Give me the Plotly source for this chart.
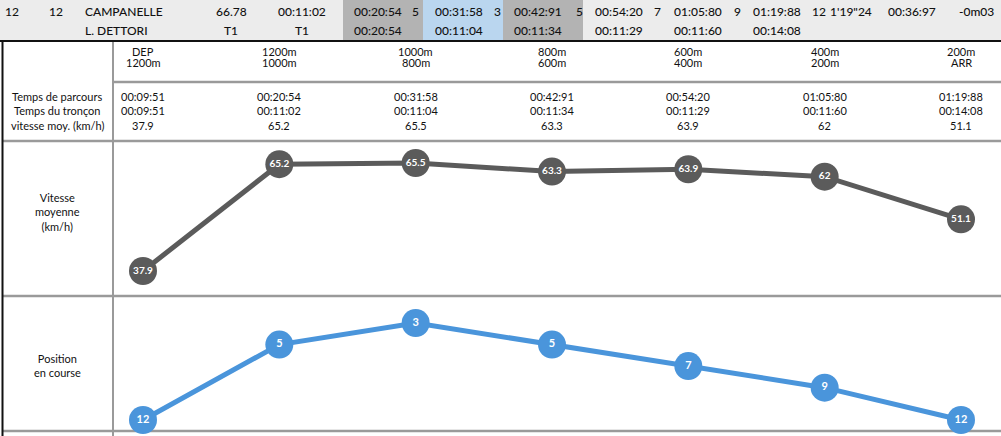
import plotly.graph_objects as go

# ---------------- data ----------------
head_row1 = ["12", "12", "CAMPANELLE", "66.78", "00:11:02", "00:20:54", "5", "00:31:58", "3",
             "00:42:91", "5", "00:54:20", "7", "01:05:80", "9", "01:19:88", "12", "1'19\"24",
             "00:36:97", "-0m03"]
head_row2 = ["", "", "L. DETTORI", "T1", "T1", "00:20:54", "", "00:11:04", "",
             "00:11:34", "", "00:11:29", "", "00:11:60", "", "00:14:08", "", "", "", ""]

section_from = ["DEP", "1200m", "1000m", "800m", "600m", "400m", "200m"]
section_to = ["1200m", "1000m", "800m", "600m", "400m", "200m", "ARR"]
temps_parcours = ["00:09:51", "00:20:54", "00:31:58", "00:42:91", "00:54:20", "01:05:80", "01:19:88"]
temps_troncon = ["00:09:51", "00:11:02", "00:11:04", "00:11:34", "00:11:29", "00:11:60", "00:14:08"]
vitesse = [37.9, 65.2, 65.5, 63.3, 63.9, 62, 51.1]
position = [12, 5, 3, 5, 7, 9, 12]

row_labels = ["Temps de parcours", "Temps du tronçon", "vitesse moy. (km/h)"]
chart_labels = ["Vitesse<br>moyenne<br>(km/h)", "Position<br>en course"]

# ---------------- layout helpers ----------------
W, H = 1001, 436
FONT = "Lato, 'Open Sans', sans-serif"
def px(x):
    return x / W
def py(y):
    return 1 - y / H

idx = list(range(len(vitesse)))
fmt = lambda v: (f"{v:g}")

fig = go.Figure()
fig.add_trace(go.Scatter(
    x=idx, y=vitesse, xaxis="x", yaxis="y",
    mode="lines+markers+text", text=[fmt(v) for v in vitesse],
    textposition="middle center",
    textfont=dict(color="white", size=10, family=FONT, weight="bold"),
    line=dict(color="#5b5b5b", width=5),
    marker=dict(color="#5b5b5b", size=28, line=dict(width=0)),
    cliponaxis=False, hoverinfo="skip", showlegend=False))
fig.add_trace(go.Scatter(
    x=idx, y=position, xaxis="x", yaxis="y2",
    mode="lines+markers+text", text=[str(v) for v in position],
    textposition="middle center",
    textfont=dict(color="white", size=11, family=FONT, weight="bold"),
    line=dict(color="#4a95db", width=5),
    marker=dict(color="#4a95db", size=28, line=dict(width=0)),
    cliponaxis=False, hoverinfo="skip", showlegend=False))

shapes = []
# header background and highlighted cells
shapes.append(dict(type="rect", xref="paper", yref="paper", x0=0, x1=1, y0=py(40), y1=py(0),
                   fillcolor="#ececec", line=dict(width=0), layer="below"))
for x0, x1, c in [(343, 423, "#b3b3b3"), (423, 503, "#bad6ef"), (503, 583, "#b3b3b3")]:
    shapes.append(dict(type="rect", xref="paper", yref="paper", x0=px(x0), x1=px(x1),
                       y0=py(40), y1=py(0), fillcolor=c, line=dict(width=0), layer="below"))
# black rule under header and left border
shapes.append(dict(type="line", xref="paper", yref="paper", x0=0, x1=1, y0=py(41), y1=py(41),
                   line=dict(color="#111", width=2)))
shapes.append(dict(type="line", xref="paper", yref="paper", x0=px(2.5), x1=px(2.5), y0=py(41), y1=0,
                   line=dict(color="#111", width=2)))
# gray grid lines
GR = "#9a9a9a"
shapes.append(dict(type="line", xref="paper", yref="paper", x0=px(113), x1=px(113), y0=py(42), y1=0,
                   line=dict(color=GR, width=2)))
shapes.append(dict(type="line", xref="paper", yref="paper", x0=px(113), x1=1, y0=py(82), y1=py(82),
                   line=dict(color=GR, width=2.5)))
for yy in [141, 296, 431]:
    shapes.append(dict(type="line", xref="paper", yref="paper", x0=px(3), x1=1, y0=py(yy), y1=py(yy),
                       line=dict(color=GR, width=2.5), layer="below"))

ann = []
def add(text, x, y, xref="paper", xanchor="center", size=12, color="#111", weight="normal"):
    ann.append(dict(text=text, x=x, y=y, xref=xref, yref="paper", xanchor=xanchor,
                    yanchor="middle", showarrow=False,
                    font=dict(family=FONT, size=size, color=color, weight=weight)))

# header rows
head_x = [12, 56, 83, 231, 302, 378, 415, 459, 497, 538, 579, 619, 657, 698, 737, 777, 819, 851, 912, 976]
for i, (t1, t2) in enumerate(zip(head_row1, head_row2)):
    anchor = "left" if i == 2 else "center"
    add(t1, px(head_x[i]), py(11), xanchor=anchor, size=12, weight=500)
    if t2:
        add(t2, px(head_x[i]), py(30), xanchor=anchor, size=12, weight=500)

# table column labels and rows
for i in idx:
    add(section_from[i], i, py(52), xref="x", size=11)
    add(section_to[i], i, py(63), xref="x", size=11)
    add(temps_parcours[i], i, py(96), xref="x", size=11)
    add(temps_troncon[i], i, py(111), xref="x", size=11)
    add(fmt(vitesse[i]), i, py(126), xref="x", size=11)
for lbl, yy in zip(row_labels, [96, 111, 126]):
    add(lbl, px(57), py(yy), size=11)
add(chart_labels[0], px(57), py(212), size=11)
add(chart_labels[1], px(57), py(365), size=11)

# axis scales (x: column index; y: values)
x_per = (961 - 143) / 6
x_range = [-143 / x_per, (W - 143) / x_per]
sp_per = (271 - 163) / (65.5 - 37.9)
sp_range = [37.9 - (296 - 271) / sp_per, 37.9 + (271 - 141) / sp_per]
pos_per = (420 - 323) / (12 - 3)
pos_range = [12 + (431 - 420) / pos_per, 12 - (420 - 296) / pos_per]

fig.update_layout(
    width=W, height=H, margin=dict(l=0, r=0, t=0, b=0),
    paper_bgcolor="white", plot_bgcolor="rgba(0,0,0,0)",
    xaxis=dict(domain=[0, 1], range=x_range, visible=False, fixedrange=True, anchor="y"),
    yaxis=dict(domain=[py(296), py(141)], range=sp_range, visible=False, fixedrange=True, anchor="x"),
    yaxis2=dict(domain=[py(431), py(296)], range=pos_range, visible=False, fixedrange=True, anchor="x"),
    shapes=shapes, annotations=ann, hovermode=False,
    font=dict(family=FONT),
)

fig.write_html("out.html", config={"displayModeBar": False, "staticPlot": True},
               post_script="document.body.style.margin='0';document.body.style.overflow='hidden';")
